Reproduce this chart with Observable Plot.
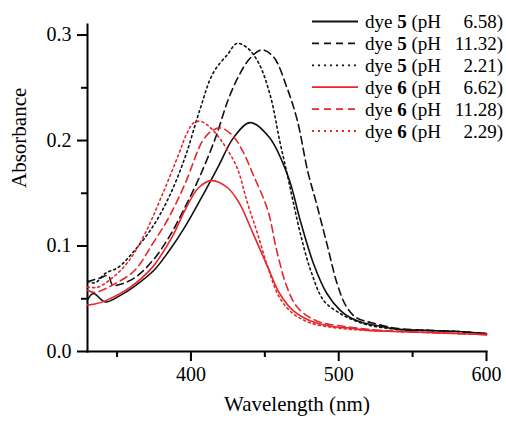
<!DOCTYPE html>
<html><head><meta charset="utf-8">
<script src="https://cdn.jsdelivr.net/npm/d3@7"></script>
<script src="https://cdn.jsdelivr.net/npm/@observablehq/plot@0.6"></script>
<style>body{margin:0;background:#fff} #chart{width:506px;height:423px}</style>
</head><body><div id="chart"></div>
<script>
// ---- data ----
const dye5_658_wl = [330,334,342,352,362,375,385,395,406,418,429,440,453,466,474,483,492,501,508,517,528,540,560,580,600];
const dye5_658_A  = [0.049,0.055,0.047,0.053,0.062,0.077,0.095,0.116,0.143,0.174,0.203,0.217,0.203,0.165,0.124,0.083,0.055,0.039,0.032,0.027,0.024,0.021,0.020,0.019,0.017];

const dye5_1132_wl = [330,339,344,347,353,363,374,385,395,406,417,425,433,440,448,456,465,472,479,485,492,499,505,512,523,539,560,580,600];
const dye5_1132_A  = [0.066,0.070,0.072,0.063,0.064,0.071,0.086,0.108,0.134,0.166,0.204,0.238,0.263,0.278,0.286,0.279,0.250,0.219,0.171,0.140,0.102,0.064,0.043,0.032,0.027,0.022,0.020,0.019,0.017];

const dye5_221_wl = [330,335,342,351,362,374,385,396,406,415,425,431,438,446,454,460,465,469,474,481,490,501,508,520,540,560,580,600];
const dye5_221_A  = [0.067,0.065,0.074,0.080,0.096,0.118,0.146,0.184,0.229,0.264,0.282,0.292,0.288,0.273,0.241,0.200,0.169,0.143,0.112,0.077,0.048,0.036,0.031,0.025,0.021,0.020,0.019,0.017];

const dye6_662_wl = [330,335,342,358,374,387,396,405,414,425,433,442,452,460,469,481,495,508,520,540,560,580,600];
const dye6_662_A  = [0.044,0.045,0.048,0.060,0.080,0.108,0.134,0.155,0.162,0.155,0.140,0.112,0.080,0.055,0.039,0.029,0.024,0.022,0.020,0.019,0.018,0.017,0.016];

const dye6_1128_wl = [330,335,347,362,374,385,396,408,414,420,428,435,442,452,458,465,472,485,508,520,540,560,580,600];
const dye6_1128_A  = [0.058,0.056,0.063,0.077,0.102,0.127,0.159,0.200,0.209,0.212,0.205,0.190,0.168,0.134,0.096,0.061,0.042,0.029,0.023,0.021,0.019,0.018,0.017,0.016];

const dye6_229_wl = [330,337,347,358,369,381,392,397,402,407,414,422,431,438,445,452,460,469,481,495,508,520,540,560,580,600];
const dye6_229_A  = [0.061,0.061,0.070,0.086,0.112,0.150,0.188,0.206,0.217,0.218,0.211,0.197,0.175,0.142,0.112,0.080,0.051,0.036,0.027,0.023,0.021,0.020,0.019,0.018,0.017,0.016];

const legendDye = ["5","5","5","6","6","6"];
const legendPH  = ["6.58","11.32","2.21","6.62","11.28","2.29"];
const majorX = [400,500,600];
const minorX = [350,450,550];
const majorY = [0,0.1,0.2,0.3];
const minorY = [0.05,0.15,0.25];

// ---- styles ----
const RED = "#e8262b", BLACK = "#111";
const DASH = "7.5,4.5", DOT = "2,3.2";
const series = [
  {wl: dye5_658_wl,  A: dye5_658_A,  color: BLACK, dash: null},
  {wl: dye5_1132_wl, A: dye5_1132_A, color: BLACK, dash: DASH},
  {wl: dye5_221_wl,  A: dye5_221_A,  color: BLACK, dash: DOT},
  {wl: dye6_662_wl,  A: dye6_662_A,  color: RED,   dash: null},
  {wl: dye6_1128_wl, A: dye6_1128_A, color: RED,   dash: DASH},
  {wl: dye6_229_wl,  A: dye6_229_A,  color: RED,   dash: DOT}
];

const FONT = '"Liberation Serif", "Times New Roman", serif';

const lineMarks = series.map(s => {
  const rows = s.wl.map((w, i) => ({w, a: s.A[i]}));
  const o = {x: "w", y: "a", stroke: s.color, strokeWidth: 1.6, curve: "catmull-rom"};
  if (s.dash) o.strokeDasharray = s.dash;
  return Plot.line(rows, o);
});

const plot = Plot.plot({
  width: 506, height: 423,
  marginLeft: 87, marginRight: 20, marginTop: 24, marginBottom: 72,
  style: {fontFamily: FONT, fontSize: "20px", color: "#000", background: "#fff", overflow: "visible"},
  x: {domain: [330, 600]},
  y: {domain: [0, 0.31]},
  marks: [
    Plot.axisX({ticks: majorX, tickSize: 10, tickPadding: 5, tickFormat: d => String(d), label: null, strokeWidth: 2, fontSize: 20}),
    Plot.axisX({ticks: minorX, tickSize: 6, tickFormat: () => "", label: null, strokeWidth: 2}),
    Plot.axisY({ticks: majorY, tickSize: 10, tickPadding: 6, tickFormat: d => d.toFixed(1), label: null, strokeWidth: 2, fontSize: 20}),
    Plot.axisY({ticks: minorY, tickSize: 6, tickFormat: () => "", label: null, strokeWidth: 2}),
    Plot.frame({anchor: "left", strokeWidth: 2}),
    Plot.frame({anchor: "bottom", strokeWidth: 2}),
    ...lineMarks,
    Plot.text(["Wavelength (nm)"], {frameAnchor: "bottom", dy: 59, dx: 10, fontSize: 21, fill: "#000"}),
    Plot.text(["Absorbance"], {frameAnchor: "left", rotate: -90, dx: -68, fontSize: 21, fill: "#000"})
  ]
});

// ---- legend ----
const svg = d3.select(plot);
const lg = svg.append("g").attr("font-family", FONT).attr("font-size", 19).attr("fill", "#000").attr("text-anchor", "start");
series.forEach((s, i) => {
  const y = 21.5 + 21.9 * i;
  const ln = lg.append("line").attr("x1", 312).attr("x2", 358).attr("y1", y).attr("y2", y)
    .attr("stroke", s.color).attr("stroke-width", 1.8);
  if (s.dash) ln.attr("stroke-dasharray", s.dash === DASH ? "7,5" : "2,4");
  const t = lg.append("text").attr("x", 365).attr("y", y).attr("dy", "0.35em").attr("text-anchor", "start");
  t.append("tspan").text("dye ");
  t.append("tspan").attr("font-weight", "bold").text(legendDye[i]);
  t.append("tspan").text(" (pH");
  lg.append("text").attr("x", 503).attr("y", y).attr("dy", "0.35em").attr("text-anchor", "end").text(legendPH[i] + ")");
});

document.getElementById("chart").appendChild(plot);
</script></body></html>
